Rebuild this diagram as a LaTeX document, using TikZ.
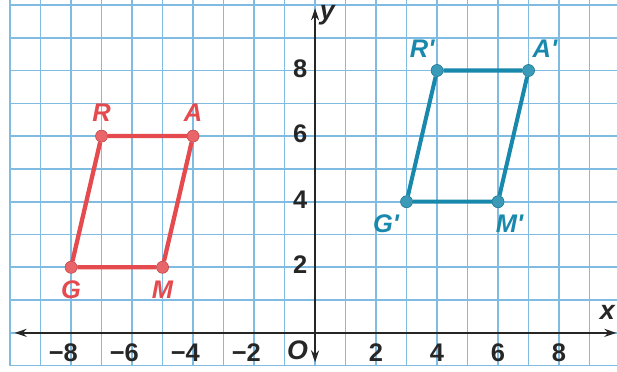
\documentclass[tikz,border=0pt]{standalone}
\usepackage{fontspec}
\setmainfont{Liberation Sans}
\usetikzlibrary{arrows.meta, positioning}

\definecolor{gridblue}{RGB}{128,188,226}
\definecolor{shapered}{RGB}{228,74,78}
\definecolor{shapeblue}{RGB}{24,136,172}
\definecolor{axisgray}{RGB}{38,38,38}

\begin{document}
\begin{tikzpicture}[
    x=0.8cm, y=0.8603cm,
    every node/.style={
        inner sep=0pt,
        text=axisgray,
        font=\fontsize{19}{22}\selectfont\bfseries
    },
    gridline/.style={draw=gridblue, line width=1.2pt},
    axis/.style={{Stealth[length=9pt,width=6pt]}-{Stealth[length=9pt,width=6pt]},
        draw=axisgray, line width=1.4pt},
    redside/.style={draw=shapered, line width=3.2pt},
    blueside/.style={draw=shapeblue, line width=3pt},
    reddot/.style={circle, minimum size=9pt,
        fill=shapered!85!white, draw=shapered!85!black, line width=0.4pt},
    bluedot/.style={circle, minimum size=9pt,
        fill=shapeblue!85!white, draw=shapeblue!85!black, line width=0.4pt},
    redlab/.style={text=shapered, font=\fontsize{19}{22}\selectfont\bfseries\itshape},
    bluelab/.style={text=shapeblue, font=\fontsize{19}{22}\selectfont\bfseries\itshape},
    axislab/.style={font=\fontsize{20}{24}\selectfont\bfseries\itshape}
]

\fill[white] (-10.33,-1.19) rectangle (9.9,10.15);
\useasboundingbox (-10.33,-1.19) rectangle (9.9,10.15);

% ------------------------
% Grid
% ------------------------
\foreach \gx in {-10,...,9}
    \draw[gridline] (\gx,-1) -- (\gx,10.15);
\foreach \gy in {-1,...,10}
    \draw[gridline] (-10,\gy) -- (9.9,\gy);

% ------------------------
% Axes
% ------------------------
\coordinate (xmin) at (-9.85,0);
\coordinate (xmax) at (9.88,0);
\coordinate (ymin) at (0,-0.9);
\coordinate (ymax) at (0,9.9);

\draw[axis] (xmin) -- (xmax);
\draw[axis] (ymin) -- (ymax);

\node[axislab, anchor=base west] (xlab) at (9.33,0.4) {x};
\node[axislab, anchor=base west] (ylab) at (0.15,9.55) {y};
\node[axislab, anchor=base east] (origin) at (-0.22,-0.82) {O};

\foreach \t in {8,6,4,2}
    \node[anchor=base east] (xneg\t) at (-\t+0.23,-0.88) {−\t};
\foreach \t in {2,4,6,8}
    \node[anchor=base] (xpos\t) at (\t,-0.88) {\t};
\foreach \t in {2,4,6,8}
    \node[anchor=base east] (ypos\t) at (-0.25,\t-0.2) {\t};

% ------------------------
% Parallelogram GMAR (red)
% ------------------------
\node[reddot] (G) at (-8,2) {};
\node[reddot] (M) at (-5,2) {};
\node[reddot] (A) at (-4,6) {};
\node[reddot] (R) at (-7,6) {};

\draw[redside] (G) -- (M) -- (A) -- (R) -- (G);

\node[redlab, above=6pt of R] (Rlab) {R};
\node[redlab, above=6pt of A] (Alab) {A};
\node[redlab, below=5pt of G] (Glab) {G};
\node[redlab, below=5pt of M] (Mlab) {M};

% ------------------------
% Image G'M'A'R' (blue)
% ------------------------
\node[bluedot] (Gp) at (3,4) {};
\node[bluedot] (Mp) at (6,4) {};
\node[bluedot] (Ap) at (7,8) {};
\node[bluedot] (Rp) at (4,8) {};

\draw[blueside] (Gp) -- (Mp) -- (Ap) -- (Rp) -- (Gp);

\node[bluelab, above=5pt of Rp, xshift=-0.39cm] (Rplab) {R\textquotesingle};
\node[bluelab, above=5pt of Ap, xshift=0.43cm] (Aplab) {A\textquotesingle};
\node[bluelab, below=5pt of Gp, xshift=-0.54cm] (Gplab) {G\textquotesingle};
\node[bluelab, below=5pt of Mp, xshift=0.3cm] (Mplab) {M\textquotesingle};

\end{tikzpicture}
\end{document}
